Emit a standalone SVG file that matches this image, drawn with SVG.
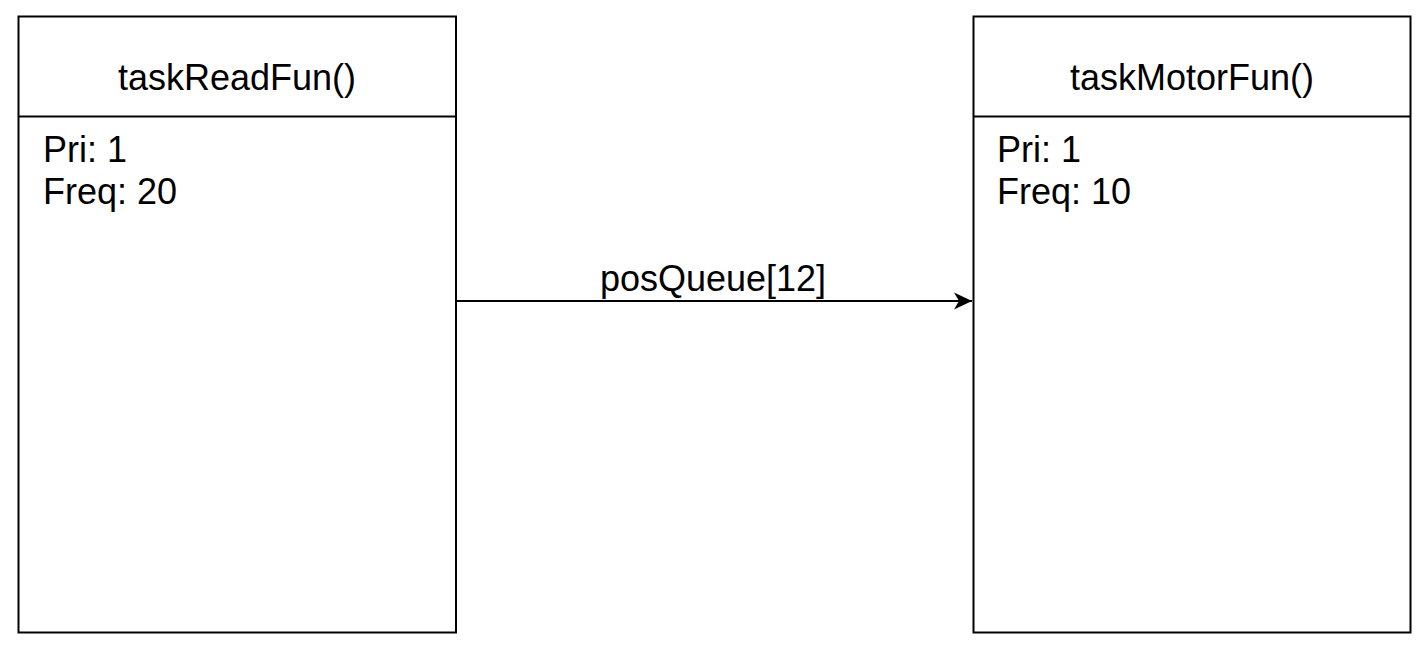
<svg xmlns="http://www.w3.org/2000/svg" width="1428" height="652" viewBox="0 0 1428 652">
<style>
.box{fill:#fff;stroke:#000;stroke-width:2}
.t{font-family:"Liberation Sans",Arial,sans-serif;font-size:36px;fill:#000}
.c{text-anchor:middle}
.edge{stroke:#000;stroke-width:2;fill:none}
</style>
<defs>
<marker id="arr" markerUnits="userSpaceOnUse" markerWidth="20" markerHeight="20" viewBox="0 0 20 20" refX="18" refY="10" orient="auto">
<path d="M0,1.5 L18,10 L0,18.5 L5,10 Z" fill="#000"/>
</marker>
</defs>
<rect width="1428" height="652" fill="#fff"/>
<g id="taskReadFun">
<rect class="box" x="18.5" y="16.5" width="437.5" height="616"/>
<line class="edge" x1="18.5" y1="116.5" x2="456" y2="116.5"/>
<text class="t c" x="237" y="90">taskReadFun()</text>
<text class="t" x="43" y="162">Pri: 1</text>
<text class="t" x="43" y="204">Freq: 20</text>
</g>
<g id="taskMotorFun">
<rect class="box" x="973.5" y="16.5" width="437" height="616"/>
<line class="edge" x1="973.5" y1="116.5" x2="1410.5" y2="116.5"/>
<text class="t c" x="1192" y="90">taskMotorFun()</text>
<text class="t" x="997" y="162">Pri: 1</text>
<text class="t" x="997" y="204">Freq: 10</text>
</g>
<g id="connectors">
<line class="edge" x1="456" y1="301" x2="972" y2="301" marker-end="url(#arr)"/>
<text class="t c" x="713" y="291">posQueue[12]</text>
</g>
</svg>
